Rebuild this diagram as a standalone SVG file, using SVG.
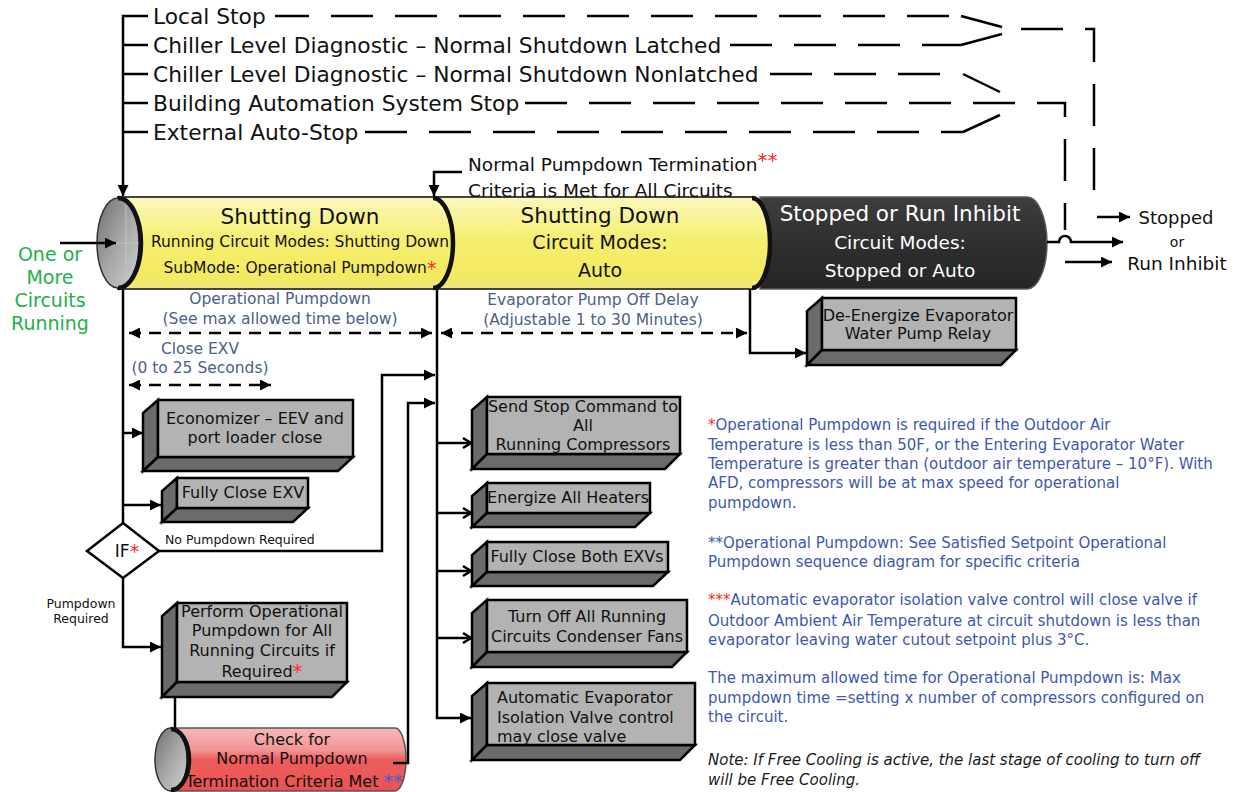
<svg xmlns="http://www.w3.org/2000/svg" width="1235" height="792" viewBox="0 0 1235 792">
<defs>
<style>
text{font-family:"DejaVu Sans","Liberation Sans",sans-serif;dominant-baseline:central;}
.t22{font-size:21.75px;fill:#111;}
.mid{text-anchor:middle;}
.box{font-size:16px;fill:#111;}
.blue{font-size:15.5px;fill:#4c6089;}
.note{font-size:15px;fill:#3f57b0;}
.red{fill:#ff2a2a;}
.ln{fill:none;stroke:#000;stroke-width:2.5;}
.dash{fill:none;stroke:#000;stroke-width:2.5;stroke-dasharray:42 22;}
.dd{fill:none;stroke:#000;stroke-width:2.5;stroke-dasharray:12 8;}
.front{fill:#b3b3b3;stroke:#000;stroke-width:2.5;stroke-linejoin:miter;}
.side{fill:#6b6b6b;stroke:#000;stroke-width:2.5;stroke-linejoin:miter;}
.rim{fill:none;stroke:#111;stroke-width:4.5;}
</style>
<marker id="ah" viewBox="0 0 10 10" refX="10" refY="5" markerWidth="11" markerHeight="11" markerUnits="userSpaceOnUse" orient="auto-start-reverse"><path d="M0,0 L10,5 L0,10 z" fill="#000"/></marker>
<linearGradient id="yel" x1="0" y1="0" x2="0" y2="1"><stop offset="0" stop-color="#fbf8bc"/><stop offset="0.45" stop-color="#f6ee72"/><stop offset="0.85" stop-color="#f3ea5e"/><stop offset="1" stop-color="#efe77e"/></linearGradient>
<linearGradient id="dark" x1="0" y1="0" x2="0" y2="1"><stop offset="0" stop-color="#3e3e3e"/><stop offset="0.5" stop-color="#2f2f2f"/><stop offset="1" stop-color="#262626"/></linearGradient>
<linearGradient id="redg" x1="0" y1="0" x2="0" y2="1"><stop offset="0" stop-color="#f6b9b9"/><stop offset="0.35" stop-color="#f29494"/><stop offset="0.5" stop-color="#ee5e5e"/><stop offset="1" stop-color="#e95252"/></linearGradient>
<linearGradient id="face" x1="0" y1="0" x2="1" y2="1"><stop offset="0" stop-color="#6f6f6f"/><stop offset="0.5" stop-color="#a6a6a6"/><stop offset="1" stop-color="#d0d0d0"/></linearGradient>
</defs>
<rect width="1235" height="792" fill="#fff"/>

<g id="stop-list">
<text class="t22" x="153" y="16">Local Stop</text>
<text class="t22" x="153" y="45">Chiller Level Diagnostic – Normal Shutdown Latched</text>
<text class="t22" x="153" y="74">Chiller Level Diagnostic – Normal Shutdown Nonlatched</text>
<text class="t22" x="153" y="103">Building Automation System Stop</text>
<text class="t22" x="153" y="132">External Auto-Stop</text>
</g>

<g id="cylinder-main">
<path d="M760,197 H1027 A20,46 0 0 1 1027,289 H760 Z" fill="url(#dark)" stroke="#5a5a5a" stroke-width="1.5"/>
<path d="M437,197 H752 A18,46 0 0 1 752,289 H437 Z" fill="url(#yel)" stroke="#444" stroke-width="2"/>
<path class="rim" d="M752,198 A18,45 0 0 1 752,288"/>
<path d="M118,197 H433 A20,46 0 0 1 433,289 H118 Z" fill="url(#yel)" stroke="#444" stroke-width="2"/>
<path class="rim" d="M433,198 A20,45 0 0 1 433,288"/>
<ellipse cx="118" cy="243" rx="21" ry="45" fill="url(#face)" stroke="#333" stroke-width="1.5"/>
<line x1="126" y1="199" x2="126" y2="287" stroke="#c4c4c4" stroke-width="1"/>
<line x1="97" y1="243" x2="139" y2="243" stroke="#c4c4c4" stroke-width="1"/>
<path class="rim" d="M118,198 A23,45 0 0 1 118,288"/>
<text class="mid" x="300" y="216" font-size="21.5" fill="#111">Shutting Down</text>
<text class="mid" x="300" y="242" font-size="15.5" fill="#111">Running Circuit Modes: Shutting Down</text>
<text class="mid" x="300" y="268" font-size="15.5" fill="#111">SubMode: Operational Pumpdown<tspan class="red" font-size="19">*</tspan></text>
<text class="mid" x="600" y="215" font-size="21.5" fill="#111">Shutting Down</text>
<text class="mid" x="600" y="242" font-size="19" fill="#111">Circuit Modes:</text>
<text class="mid" x="600" y="270" font-size="19" fill="#111">Auto</text>
<text class="mid" x="900" y="213" font-size="21.5" fill="#fff">Stopped or Run Inhibit</text>
<text class="mid" x="900" y="242" font-size="18.5" fill="#fff">Circuit Modes:</text>
<text class="mid" x="900" y="270" font-size="18.5" fill="#fff">Stopped or Auto</text>
</g>

<g id="circuits-running">
<text class="mid" x="50" y="254" font-size="19" fill="#22b04b">One or</text>
<text class="mid" x="50" y="277" font-size="19" fill="#22b04b">More</text>
<text class="mid" x="50" y="300" font-size="19" fill="#22b04b">Circuits</text>
<text class="mid" x="50" y="323" font-size="19" fill="#22b04b">Running</text>
</g>

<g id="termination-label">
<text x="468" y="164" font-size="18.5" fill="#111">Normal Pumpdown Termination<tspan class="red" dy="-4" font-size="20">**</tspan></text>
<text x="468" y="190" font-size="18.5" fill="#111">Criteria is Met for All Circuits</text>
</g>

<g id="result-label">
<text class="mid" x="1176" y="217" font-size="18" fill="#111">Stopped</text>
<text class="mid" x="1177" y="242" font-size="14" fill="#111">or</text>
<text class="mid" x="1177" y="263" font-size="18.5" fill="#111">Run Inhibit</text>
</g>

<g id="timing-labels">
<text class="blue mid" x="280" y="299">Operational Pumpdown</text>
<text class="blue mid" x="280" y="319">(See max allowed time below)</text>
<text class="blue mid" x="593" y="300">Evaporator Pump Off Delay</text>
<text class="blue mid" x="593" y="320">(Adjustable 1 to 30 Minutes)</text>
<text class="blue mid" x="200" y="349">Close EXV</text>
<text class="blue mid" x="200" y="368">(0 to 25 Seconds)</text>
</g>

<g id="box-economizer">
<polygon class="side" points="158,400 143,413 143,471 158,457"/>
<polygon class="side" points="158,457 353,457 338,471 143,471"/>
<rect class="front" x="158" y="400" width="195" height="57"/>
<text class="box mid" x="255" y="418">Economizer – EEV and</text>
<text class="box mid" x="255" y="437">port loader close</text>
</g>

<g id="box-close-exv">
<polygon class="side" points="177,478 162,491 162,522 177,508"/>
<polygon class="side" points="177,508 308,508 293,522 162,522"/>
<rect class="front" x="177" y="478" width="131" height="30"/>
<text class="box mid" x="243" y="492">Fully Close EXV</text>
</g>

<g id="decision-if">
<polygon points="123,523 159,551 123,578 87,551" fill="#fff" stroke="#000" stroke-width="2.5"/>
<text class="mid" x="127" y="551" font-size="17" fill="#111">IF<tspan class="red" font-size="19">*</tspan></text>
<text x="165" y="539" font-size="12.5" fill="#111">No Pumpdown Required</text>
<text class="mid" x="81" y="603" font-size="12.5" fill="#111">Pumpdown</text>
<text class="mid" x="81" y="618" font-size="12.5" fill="#111">Required</text>
</g>

<g id="box-perform-pumpdown">
<polygon class="side" points="177,603 162,616 162,697 177,682"/>
<polygon class="side" points="177,682 347,682 332,697 162,697"/>
<rect class="front" x="177" y="603" width="170" height="79"/>
<text class="box mid" x="262" y="611">Perform Operational</text>
<text class="box mid" x="262" y="630">Pumpdown for All</text>
<text class="box mid" x="262" y="650">Running Circuits if</text>
<text class="box mid" x="262" y="671">Required<tspan class="red" font-size="20">*</tspan></text>
</g>

<g id="cylinder-check">
<path d="M171,728 H395 A11,31.5 0 0 1 395,791 H171 Z" fill="url(#redg)" stroke="#555" stroke-width="1.5"/>
<ellipse cx="171" cy="759.5" rx="16" ry="31.5" fill="url(#face)" stroke="#333" stroke-width="1.5"/>
<path class="rim" d="M171,729 A18,30.5 0 0 1 171,790"/>
<text class="mid" x="292" y="739" font-size="16" fill="#111">Check for</text>
<text class="mid" x="292" y="758" font-size="16" fill="#111">Normal Pumpdown</text>
<text class="mid" x="294" y="781" font-size="16" fill="#111">Termination Criteria Met <tspan fill="#4062d0" font-size="19">**</tspan></text>
</g>

<g id="box-send-stop">
<polygon class="side" points="487,397 472,410 472,469 487,454"/>
<polygon class="side" points="487,454 680,454 665,469 472,469"/>
<rect class="front" x="487" y="397" width="193" height="57"/>
<text class="box mid" x="583" y="406">Send Stop Command to</text>
<text class="box mid" x="583" y="425">All</text>
<text class="box mid" x="583" y="444">Running Compressors</text>
</g>

<g id="box-heaters">
<polygon class="side" points="487,483 472,496 472,527 487,513"/>
<polygon class="side" points="487,513 650,513 635,527 472,527"/>
<rect class="front" x="487" y="483" width="163" height="30"/>
<text class="box mid" x="568" y="497">Energize All Heaters</text>
</g>

<g id="box-close-both">
<polygon class="side" points="487,542 472,555 472,586 487,572"/>
<polygon class="side" points="487,572 668,572 653,586 472,586"/>
<rect class="front" x="487" y="542" width="181" height="30"/>
<text class="box mid" x="577" y="556">Fully Close Both EXVs</text>
</g>

<g id="box-fans">
<polygon class="side" points="487,600 472,613 472,667 487,652"/>
<polygon class="side" points="487,652 687,652 672,667 472,667"/>
<rect class="front" x="487" y="600" width="200" height="52"/>
<text class="box mid" x="587" y="616">Turn Off All Running</text>
<text class="box mid" x="587" y="636">Circuits Condenser Fans</text>
</g>

<g id="box-isolation">
<polygon class="side" points="487,683 472,696 472,760 487,745"/>
<polygon class="side" points="487,745 695,745 680,760 472,760"/>
<rect class="front" x="487" y="683" width="208" height="62"/>
<text class="box" x="497" y="697">Automatic Evaporator</text>
<text class="box" x="497" y="717">Isolation Valve control</text>
<text class="box" x="497" y="736">may close valve</text>
</g>

<g id="box-pump-relay">
<polygon class="side" points="822,298 807,311 807,365 822,350"/>
<polygon class="side" points="822,350 1016,350 1001,365 807,365"/>
<rect class="front" x="822" y="298" width="194" height="52"/>
<text class="box mid" x="918" y="315">De-Energize Evaporator</text>
<text class="box mid" x="918" y="333">Water Pump Relay</text>
</g>

<g id="notes">
<text class="note" x="708" y="425"><tspan class="red">*</tspan>Operational Pumpdown is required if the Outdoor Air</text>
<text class="note" x="708" y="445">Temperature is less than 50F, or the Entering Evaporator Water</text>
<text class="note" x="708" y="464">Temperature is greater than (outdoor air temperature – 10°F). With</text>
<text class="note" x="708" y="483">AFD, compressors will be at max speed for operational</text>
<text class="note" x="708" y="503">pumpdown.</text>
<text class="note" x="708" y="543">**Operational Pumpdown: See Satisfied Setpoint Operational</text>
<text class="note" x="708" y="562">Pumpdown sequence diagram for specific criteria</text>
<text class="note" x="708" y="600"><tspan class="red">***</tspan>Automatic evaporator isolation valve control will close valve if</text>
<text class="note" x="708" y="621">Outdoor Ambient Air Temperature at circuit shutdown is less than</text>
<text class="note" x="708" y="640">evaporator leaving water cutout setpoint plus 3°C.</text>
<text class="note" x="708" y="678">The maximum allowed time for Operational Pumpdown is: Max</text>
<text class="note" x="708" y="698">pumpdown time =setting x number of compressors configured on</text>
<text class="note" x="708" y="717">the circuit.</text>
<text x="708" y="760" font-size="15" font-style="italic" fill="#1a1a1a">Note: If Free Cooling is active, the last stage of cooling to turn off</text>
<text x="708" y="780" font-size="15" font-style="italic" fill="#1a1a1a">will be Free Cooling.</text>
</g>

<g id="connectors">
<path class="ln" d="M148,16 H123 V196" marker-end="url(#ah)"/>
<path class="ln" d="M123,45 H148 M123,74 H148 M123,103 H148 M123,132 H148"/>
<path class="dash" d="M275,16 H961" stroke-dashoffset="8"/>
<path class="ln" d="M961,16 L1002,27"/>
<path class="dash" d="M730,45 H961"/>
<path class="ln" d="M961,45 L1002,34"/>
<path class="dash" d="M1021,29 H1094 V205"/>
<path class="ln" d="M1097,217 H1130" marker-end="url(#ah)"/>
<path class="dash" d="M770,74 H943"/>
<path class="ln" d="M963,74 L1000,92"/>
<path class="dash" d="M525,103 H1065 V230"/>
<path class="ln" d="M1065,262 H1112" marker-end="url(#ah)"/>
<path class="dash" d="M365,132 H963"/>
<path class="ln" d="M963,132 L1000,115"/>
<path class="ln" d="M1047,242 H1059 A6,6 0 0 1 1071,242 H1123" marker-end="url(#ah)"/>
<path class="ln" d="M60,243 H116" marker-end="url(#ah)"/>
<path class="ln" d="M462,172 H434 V196" marker-end="url(#ah)"/>
<path class="dd" d="M129,333 H432" marker-start="url(#ah)" marker-end="url(#ah)"/>
<path class="dd" d="M441,333 H747" marker-start="url(#ah)" marker-end="url(#ah)"/>
<path class="dd" d="M129,385 H271" marker-start="url(#ah)" marker-end="url(#ah)"/>
<path class="ln" d="M123,289 V523"/>
<path class="ln" d="M123,433 H143" marker-end="url(#ah)"/>
<path class="ln" d="M123,505 H161" marker-end="url(#ah)"/>
<path class="ln" d="M159,551 H382 V375 H435" marker-end="url(#ah)"/>
<path class="ln" d="M123,578 V647 H161" marker-end="url(#ah)"/>
<path class="ln" d="M175,697 V728"/>
<path class="ln" d="M393,763 H408 V403 H435" marker-end="url(#ah)"/>
<path class="ln" d="M437,289 V718 H471" marker-end="url(#ah)"/>
<path class="ln" d="M437,443 H471 M437,513 H471 M437,571 H471 M437,638 H471"/>
<path class="ln" d="M463,438 L471,443 L463,448 M463,508 L471,513 L463,518 M463,566 L471,571 L463,576 M463,633 L471,638 L463,643" fill="#000" stroke-linejoin="miter"/>
<path class="ln" d="M750,289 V353 H806" marker-end="url(#ah)"/>
</g>
</svg>
